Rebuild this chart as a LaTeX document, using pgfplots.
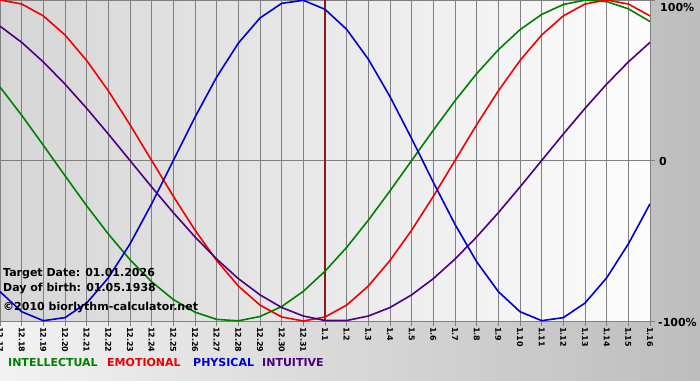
\documentclass[border=0pt]{standalone}
\usepackage{pgfplots}
\pgfplotsset{compat=1.18}
\usepackage{pgfplotstable}
\usepackage{fontspec}
\setmainfont{DejaVu Sans}
\definecolor{cInt}{HTML}{008000}
\definecolor{cEmo}{HTML}{F00000}
\definecolor{cPhy}{HTML}{0000D0}
\definecolor{cItu}{HTML}{4B0082}
\definecolor{cTgt}{HTML}{8B1A1A}
\definecolor{gridc}{HTML}{808080}
\definecolor{bgL}{HTML}{F2F2F2}
\definecolor{bgR}{HTML}{BDBDBD}
\definecolor{plL}{HTML}{D6D6D6}
\definecolor{plR}{HTML}{FCFCFC}
\pgfplotstableread{
i  int    emo    phy    itu
0  45.8   100    -81.7  83.7
1  28.2   97.5   -94.2  73.6
2  9.5    90.1   -99.8  61.4
3  -9.5   78.2   -97.9  47.6
4  -28.2  62.3   -88.8  32.5
5  -45.8  43.4   -73.1  16.5
6  -61.8  22.3   -52.0  0
7  -75.6  0      -27.0  -16.5
8  -86.6  -22.3  0      -32.5
9  -94.5  -43.4  27.0   -47.6
10 -99.0  -62.3  52.0   -61.4
11 -99.9  -78.2  73.1   -73.6
12 -97.2  -90.1  88.8   -83.7
13 -91.0  -97.5  97.9   -91.6
14 -81.5  -100   99.8   -96.9
15 -69.0  -97.5  94.2   -99.7
16 -54.1  -90.1  81.7   -99.7
17 -37.2  -78.2  63.1   -96.9
18 -18.9  -62.3  39.8   -91.6
19 0      -43.4  13.6   -83.7
20 18.9   -22.3  -13.6  -73.6
21 37.2   0      -39.8  -61.4
22 54.1   22.3   -63.1  -47.6
23 69.0   43.4   -81.7  -32.5
24 81.5   62.3   -94.2  -16.5
25 91.0   78.2   -99.8  0
26 97.2   90.1   -97.9  16.5
27 99.9   97.5   -88.8  32.5
28 99.0   100    -73.1  47.6
29 94.5   97.5   -52.0  61.4
30 86.6   90.1   -27.0  73.6
}\bio
\begin{document}
\begin{tikzpicture}[x=1bp,y=1bp]
\fill[left color=bgL, right color=bgR] (0,0) rectangle (700,380);
\path[use as bounding box] (0,0) rectangle (700,380);
\begin{axis}[
  at={(0bp,59bp)}, anchor=south west,
  scale only axis, width=650bp, height=321bp,
  xmin=0, xmax=30, ymin=-100, ymax=100,
  axis background/.style={shade, left color=plL, right color=plR},
  axis line style={draw=gridc, line width=1bp},
  xtick={0,...,30},
  xticklabels={12.17,12.18,12.19,12.20,12.21,12.22,12.23,12.24,12.25,12.26,12.27,12.28,12.29,12.30,12.31,1.1,1.2,1.3,1.4,1.5,1.6,1.7,1.8,1.9,1.10,1.11,1.12,1.13,1.14,1.15,1.16},
  ytick={-100,0,100}, yticklabels={},
  xmajorgrids, ymajorgrids,
  grid style={draw=gridc, line width=0.9bp},
  tick align=outside, major tick length=5bp,
  xtick pos=bottom, ytick pos=right,
  tick style={draw=gridc, line width=0.9bp},
  xticklabel style={rotate=-90, anchor=west, font=\fontsize{8bp}{9bp}\selectfont\bfseries, inner sep=1bp, text=black},
]
\addplot[cTgt, line width=2bp] coordinates {(15,-100) (15,100)};
\addplot[cInt, line width=1.6bp] table[x=i, y=int] {\bio};
\addplot[cEmo, line width=1.6bp] table[x=i, y=emo] {\bio};
\addplot[cPhy, line width=1.6bp] table[x=i, y=phy] {\bio};
\addplot[cItu, line width=1.6bp] table[x=i, y=itu] {\bio};
\end{axis}
\begin{scope}[every node/.style={inner sep=0pt, font=\fontsize{11bp}{13bp}\selectfont\bfseries}]
\node[anchor=base west] at (3,104) {Target Date: 01.01.2026};
\node[anchor=base west] at (3,89) {Day of birth: 01.05.1938};
\node[anchor=base west] at (3,70) {©2010 biorlythm-calculator.net};
\node[anchor=base west] at (660,369) {100\%};
\node[anchor=base west] at (659,215) {0};
\node[anchor=base west] at (658,54) {-100\%};
\node[anchor=base west, text=cInt] at (8,14) {INTELLECTUAL};
\node[anchor=base west, text=cEmo] at (107,14) {EMOTIONAL};
\node[anchor=base west, text=cPhy] at (193,14) {PHYSICAL};
\node[anchor=base west, text=cItu] at (262,14) {INTUITIVE};
\end{scope}
\end{tikzpicture}
\end{document}
